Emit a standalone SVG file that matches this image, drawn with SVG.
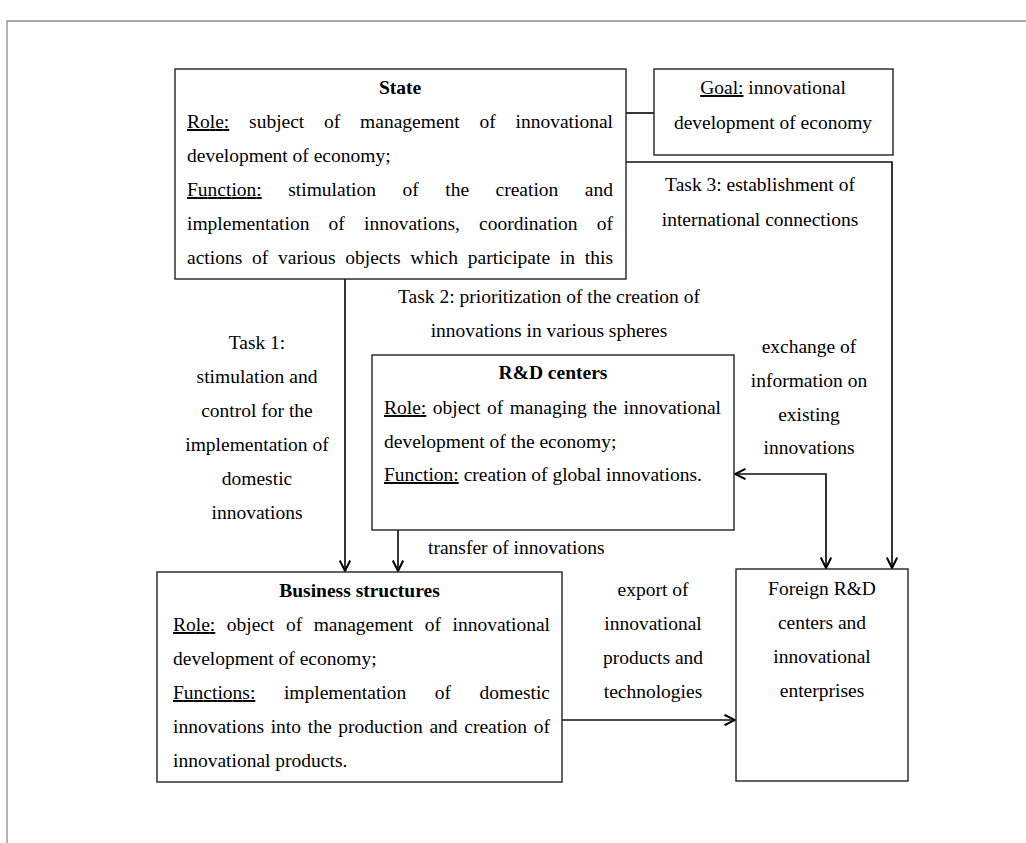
<svg xmlns="http://www.w3.org/2000/svg" width="1026" height="843" viewBox="0 0 1026 843">
<defs>
<style>
text{font-family:"Liberation Serif","Times New Roman",serif;font-size:19.5px;fill:#000}
.b{font-weight:bold}
.c{text-anchor:middle}
.u{text-decoration:underline}
.box{fill:#fff;stroke:#222;stroke-width:1.4}
.ln{fill:none;stroke:#111;stroke-width:1.7}
.frame{fill:none;stroke:#8a8a8a;stroke-width:1.3}
</style>
<marker id="ar" viewBox="0 0 12 12" refX="11" refY="6" markerWidth="12" markerHeight="12" markerUnits="userSpaceOnUse" orient="auto-start-reverse">
<path d="M0.5,0.8 L11,6 L0.5,11.2" fill="none" stroke="#000" stroke-width="2"/>
</marker>
</defs>
<rect width="1026" height="843" fill="#fff"/>
<path class="frame" d="M7,843 V21 H1026"/>

<g id="connectors">
<line class="ln" x1="626" y1="113" x2="654" y2="113"/>
<polyline class="ln" points="626,162 892,162 892,568" marker-end="url(#ar)"/>
<line class="ln" x1="345" y1="279" x2="345" y2="571" marker-end="url(#ar)"/>
<line class="ln" x1="398" y1="530" x2="398" y2="571" marker-end="url(#ar)"/>
<polyline class="ln" points="735,474 826,474 826,568" marker-start="url(#ar)" marker-end="url(#ar)"/>
<line class="ln" x1="562" y1="720" x2="735" y2="720" marker-end="url(#ar)"/>
<g id="labels">
<text class="c" x="760" y="191">Task 3: establishment of</text>
<text class="c" x="760" y="226">international connections</text>
<text class="c" x="549" y="303">Task 2: prioritization of the creation of</text>
<text class="c" x="549" y="337">innovations in various spheres</text>
<text class="c" x="257" y="349">Task 1:</text>
<text class="c" x="257" y="383">stimulation and</text>
<text class="c" x="257" y="417">control for the</text>
<text class="c" x="257" y="451">implementation of</text>
<text class="c" x="257" y="485">domestic</text>
<text class="c" x="257" y="519">innovations</text>
<text x="428" y="554">transfer of innovations</text>
<text class="c" x="809" y="353">exchange of</text>
<text class="c" x="809" y="387">information on</text>
<text class="c" x="809" y="421">existing</text>
<text class="c" x="809" y="454">innovations</text>
<text class="c" x="653" y="596">export of</text>
<text class="c" x="653" y="630">innovational</text>
<text class="c" x="653" y="664">products and</text>
<text class="c" x="653" y="698">technologies</text>
</g>
</g>

<g id="state">
<rect class="box" x="175" y="69" width="451" height="210"/>
<text class="b c" x="400" y="94">State</text>
<text x="187" y="128" word-spacing="14.9" textLength="426" lengthAdjust="spacing"><tspan class="u">Role:</tspan> subject of management of innovational</text>
<text x="187" y="162">development of economy;</text>
<text x="187" y="196" word-spacing="21.6" textLength="426" lengthAdjust="spacing"><tspan class="u">Function:</tspan> stimulation of the creation and</text>
<text x="187" y="230" word-spacing="14.3" textLength="426" lengthAdjust="spacing">implementation of innovations, coordination of</text>
<text x="187" y="264" word-spacing="4.9" textLength="426" lengthAdjust="spacing">actions of various objects which participate in this</text>
</g>

<g id="goal">
<rect class="box" x="654" y="69" width="239" height="86"/>
<text class="c" x="773" y="94"><tspan class="u">Goal:</tspan> innovational</text>
<text class="c" x="773" y="129">development of economy</text>
</g>

<g id="rd">
<rect class="box" x="372" y="355" width="362" height="175"/>
<text class="b c" x="553" y="379">R&amp;D centers</text>
<text x="384" y="414" word-spacing="1.6" textLength="337" lengthAdjust="spacing"><tspan class="u">Role:</tspan> object of managing the innovational</text>
<text x="384" y="448">development of the economy;</text>
<text x="384" y="481"><tspan class="u">Function:</tspan> creation of global innovations.</text>
</g>

<g id="business">
<rect class="box" x="157" y="572" width="405" height="210"/>
<text class="b c" x="359.5" y="597">Business structures</text>
<text x="173" y="631" word-spacing="6.6" textLength="377" lengthAdjust="spacing"><tspan class="u">Role:</tspan> object of management of innovational</text>
<text x="173" y="665">development of economy;</text>
<text x="173" y="699" word-spacing="23.7" textLength="377" lengthAdjust="spacing"><tspan class="u">Functions:</tspan> implementation of domestic</text>
<text x="173" y="733" word-spacing="1.8" textLength="377" lengthAdjust="spacing">innovations into the production and creation of</text>
<text x="173" y="767">innovational products.</text>
</g>

<g id="foreign">
<rect class="box" x="736" y="569" width="172" height="212"/>
<text class="c" x="822" y="595">Foreign R&amp;D</text>
<text class="c" x="822" y="629">centers and</text>
<text class="c" x="822" y="663">innovational</text>
<text class="c" x="822" y="697">enterprises</text>
</g>
</svg>
